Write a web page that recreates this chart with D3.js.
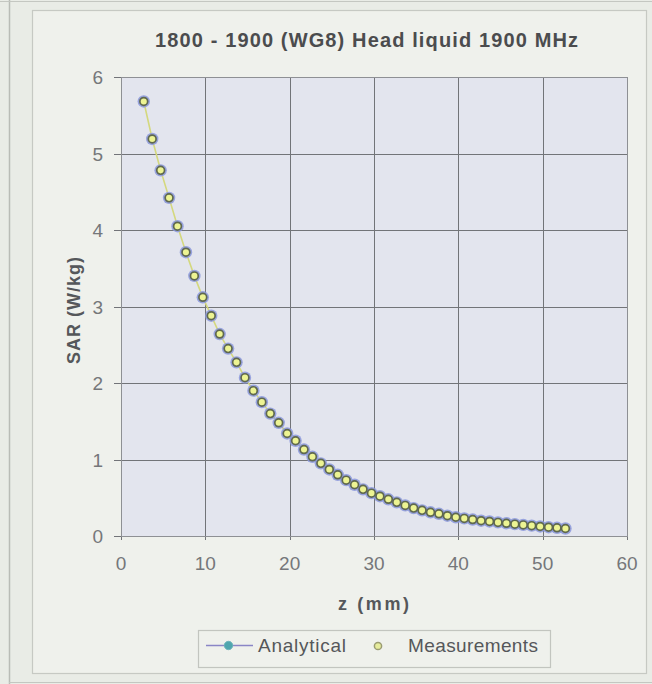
<!DOCTYPE html>
<html>
<head>
<meta charset="utf-8">
<script src="https://cdn.jsdelivr.net/npm/d3@7"></script>
<style>
  html, body { margin: 0; padding: 0; background: #e9ece6; }
  svg { display: block; }
  text { font-family: "Liberation Sans", Arial, sans-serif; }
</style>
</head>
<body>
<svg id="chart" width="652" height="684"></svg>
<script>
// Depth below the phantom surface (mm)
const depthMM = [
  2.7, 3.7, 4.7, 5.7, 6.7, 7.7, 8.7, 9.7, 10.7, 11.7,
  12.7, 13.7, 14.7, 15.7, 16.7, 17.7, 18.7, 19.7, 20.7, 21.7,
  22.7, 23.7, 24.7, 25.7, 26.7, 27.7, 28.7, 29.7, 30.7, 31.7,
  32.7, 33.7, 34.7, 35.7, 36.7, 37.7, 38.7, 39.7, 40.7, 41.7,
  42.7, 43.7, 44.7, 45.7, 46.7, 47.7, 48.7, 49.7, 50.7, 51.7,
  52.7
];
// Analytical SAR (W/kg)
const analyticalSAR = [
  5.68, 5.19, 4.78, 4.42, 4.05, 3.71, 3.40, 3.12, 2.88, 2.64,
  2.45, 2.27, 2.07, 1.90, 1.75, 1.60, 1.48, 1.34, 1.245, 1.13,
  1.035, 0.95, 0.87, 0.80, 0.73, 0.67, 0.61, 0.56, 0.52, 0.48,
  0.44, 0.40, 0.365, 0.335, 0.31, 0.29, 0.265, 0.245, 0.23, 0.215,
  0.20, 0.19, 0.178, 0.166, 0.155, 0.145, 0.135, 0.125, 0.115, 0.107,
  0.098
];
// Measured SAR (W/kg)
const measuredSAR = [
  5.68, 5.19, 4.78, 4.42, 4.05, 3.71, 3.40, 3.12, 2.88, 2.64,
  2.45, 2.27, 2.07, 1.90, 1.75, 1.60, 1.48, 1.34, 1.245, 1.13,
  1.035, 0.95, 0.87, 0.80, 0.73, 0.67, 0.61, 0.56, 0.52, 0.48,
  0.44, 0.40, 0.365, 0.335, 0.31, 0.29, 0.265, 0.245, 0.23, 0.215,
  0.20, 0.19, 0.178, 0.166, 0.155, 0.145, 0.135, 0.125, 0.115, 0.107,
  0.098
];
const xTicks = [0, 10, 20, 30, 40, 50, 60];
const yTicks = [0, 1, 2, 3, 4, 5, 6];
const seriesNames = ["Analytical", "Measurements"];
const chartTitle = "1800 - 1900 (WG8) Head liquid 1900 MHz";
const xTitle = "z (mm)";
const yTitle = "SAR (W/kg)";

const svg = d3.select("#chart");

// page frame and chart frame
svg.append("line").attr("x1", 9.5).attr("x2", 9.5).attr("y1", 0).attr("y2", 684)
  .attr("stroke", "#b9bcb6").attr("stroke-width", 1.5);
svg.append("line").attr("x1", 0).attr("x2", 652).attr("y1", 1.5).attr("y2", 1.5)
  .attr("stroke", "#c4c7c1").attr("stroke-width", 1.2);
svg.append("line").attr("x1", 9).attr("x2", 652).attr("y1", 682.5).attr("y2", 682.5)
  .attr("stroke", "#c4c7c1").attr("stroke-width", 1.2);
svg.append("rect").attr("x", 32.5).attr("y", 10.5).attr("width", 614).attr("height", 663)
  .attr("fill", "#eff1ec").attr("stroke", "#c6c9c3").attr("stroke-width", 1.2);

const x = d3.scaleLinear().domain([0, 60]).range([121, 627]);
const y = d3.scaleLinear().domain([0, 6]).range([536, 77]);

// plot area
svg.append("rect")
  .attr("x", x(0)).attr("y", y(6))
  .attr("width", x(60) - x(0)).attr("height", y(0) - y(6))
  .attr("fill", "#e3e5ee");

// gridlines
svg.append("g").selectAll("line").data(xTicks).join("line")
  .attr("x1", d => Math.round(x(d)) + 0.5).attr("x2", d => Math.round(x(d)) + 0.5)
  .attr("y1", y(6)).attr("y2", y(0) + 4)
  .attr("stroke", "#727478").attr("stroke-width", 1);
svg.append("g").selectAll("line").data(yTicks).join("line")
  .attr("x1", x(0) - 7).attr("x2", x(60))
  .attr("y1", d => Math.round(y(d)) + 0.5).attr("y2", d => Math.round(y(d)) + 0.5)
  .attr("stroke", "#727478").attr("stroke-width", 1);
svg.append("rect")
  .attr("x", x(0) + 0.5).attr("y", y(6) + 0.5)
  .attr("width", x(60) - x(0)).attr("height", y(0) - y(6))
  .attr("fill", "none").attr("stroke", "#8e9094").attr("stroke-width", 1);

// tick labels
svg.append("g").selectAll("text").data(xTicks).join("text")
  .attr("x", d => x(d)).attr("y", 570)
  .attr("text-anchor", "middle")
  .attr("font-size", 19).attr("fill", "#75777a")
  .text(d => d);
svg.append("g").selectAll("text").data(yTicks).join("text")
  .attr("x", 103).attr("y", d => y(d) + 7)
  .attr("text-anchor", "end")
  .attr("font-size", 19).attr("fill", "#75777a")
  .text(d => d);

// titles
svg.append("text")
  .attr("x", 155).attr("y", 47)
  .attr("font-size", 20).attr("font-weight", "bold").attr("fill", "#4b4c4e")
  .attr("textLength", 423).attr("lengthAdjust", "spacing")
  .text(chartTitle);
svg.append("text")
  .attr("x", 338).attr("y", 610)
  .attr("font-size", 18).attr("font-weight", "bold").attr("fill", "#55575a")
  .attr("textLength", 71).attr("lengthAdjust", "spacing")
  .text(xTitle);
svg.append("text")
  .attr("transform", "translate(80,364) rotate(-90)")
  .attr("font-size", 18).attr("font-weight", "bold").attr("fill", "#55575a")
  .attr("textLength", 107).attr("lengthAdjust", "spacing")
  .text(yTitle);

// series
const analytical = depthMM.map((z, i) => ({ z, v: analyticalSAR[i] }));
const measured = depthMM.map((z, i) => ({ z, v: measuredSAR[i] }));

svg.append("path").datum(analytical)
  .attr("d", d3.line().x(d => x(d.z)).y(d => y(d.v)))
  .attr("fill", "none").attr("stroke", "#d4d87e").attr("stroke-width", 1.6);

svg.append("g").selectAll("circle").data(analytical).join("circle")
  .attr("cx", d => x(d.z)).attr("cy", d => y(d.v)).attr("r", 6.2)
  .attr("fill", "#8a97da").attr("opacity", 0.85);

svg.append("g").selectAll("circle").data(measured).join("circle")
  .attr("cx", d => x(d.z)).attr("cy", d => y(d.v)).attr("r", 3.9)
  .attr("fill", "#edf493").attr("stroke", "#5f6850").attr("stroke-width", 1.7);

// legend
const lg = svg.append("g");
lg.append("rect").attr("x", 198.5).attr("y", 630.5).attr("width", 352).attr("height", 37)
  .attr("fill", "#eff1ec").attr("stroke", "#c2c5bf").attr("stroke-width", 1.2);
lg.append("line").attr("x1", 206).attr("x2", 253).attr("y1", 645.5).attr("y2", 645.5)
  .attr("stroke", "#8a86c6").attr("stroke-width", 1.6);
lg.append("circle").attr("cx", 228.5).attr("cy", 645.5).attr("r", 4.2)
  .attr("fill", "#4fa6ae").attr("stroke", "#6fb5bb").attr("stroke-width", 1);
lg.append("text").attr("x", 258).attr("y", 652)
  .attr("font-size", 19).attr("fill", "#55575a")
  .attr("textLength", 88).attr("lengthAdjust", "spacing")
  .text(seriesNames[0]);
lg.append("circle").attr("cx", 378).attr("cy", 646).attr("r", 3.6)
  .attr("fill", "#e6ec9c").attr("stroke", "#9a9c72").attr("stroke-width", 1.5);
lg.append("text").attr("x", 408).attr("y", 652)
  .attr("font-size", 19).attr("fill", "#55575a")
  .attr("textLength", 130).attr("lengthAdjust", "spacing")
  .text(seriesNames[1]);
</script>
</body>
</html>
